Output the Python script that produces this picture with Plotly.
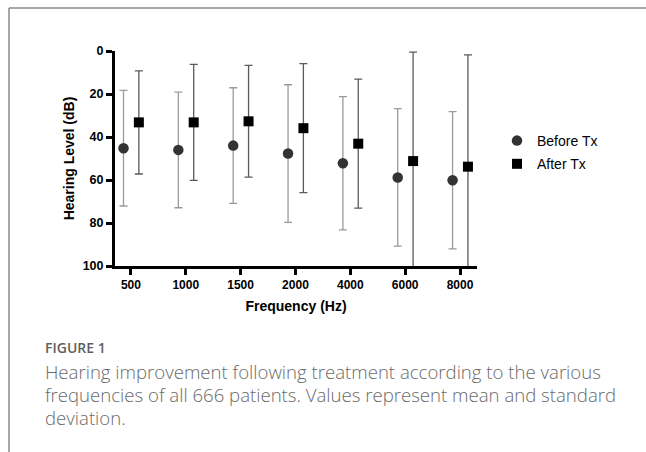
import plotly.graph_objects as go

categories = ["500", "1000", "1500", "2000", "4000", "6000", "8000"]
before_mean = [45.2, 46.0, 44.0, 47.7, 52.2, 58.8, 60.1]
before_sd = [26.9, 26.9, 26.9, 32.0, 31.0, 32.0, 31.9]
after_mean = [33.2, 33.2, 32.7, 35.9, 43.1, 51.2, 53.8]
after_sd = [24.0, 27.0, 26.0, 30.0, 30.0, 50.7, 52.0]
y_ticks = [0, 20, 40, 60, 80, 100]

idx = list(range(len(categories)))
off_b, off_a = -0.135, 0.145
xb = [i + off_b for i in idx]
xa = [i + off_a for i in idx]

FONT = "Liberation Sans, Arial, sans-serif"
W, H = 646, 452
L, R, T, B = 115, 477, 51, 266


def px(x):
    return (x - L) / (R - L)


def py(y):
    return (B - y) / (B - T)


fig = go.Figure()
fig.add_trace(go.Scatter(
    x=xb, y=before_mean, mode="markers", name="Before Tx", legendgroup="b",
    marker=dict(symbol="circle", size=10.5, color="#333333"),
    error_y=dict(type="data", array=before_sd, symmetric=True,
                 color="#9a9a9a", thickness=1.3, width=4),
))
fig.add_trace(go.Scatter(
    x=xa, y=after_mean, mode="markers", name="After Tx", legendgroup="a",
    marker=dict(symbol="square", size=10, color="#000000"),
    error_y=dict(type="data", array=after_sd, symmetric=True,
                 color="#5a5a5a", thickness=1.3, width=4),
))

fig.update_layout(
    width=W, height=H,
    margin=dict(l=L, r=W - R, t=T, b=H - B, pad=0),
    paper_bgcolor="white", plot_bgcolor="white",
    font=dict(family=FONT, color="black"),
    showlegend=True,
    legend=dict(x=px(497), y=py(125), xanchor="left", yanchor="top",
                font=dict(size=14, family=FONT, color="black"),
                bgcolor="rgba(0,0,0,0)", tracegroupgap=2,
                traceorder="grouped", itemwidth=30),
    xaxis=dict(
        range=[-0.29, 6.31], tickmode="array", tickvals=idx, ticktext=categories,
        showline=True, linecolor="black", linewidth=3,
        ticks="outside", ticklen=6, tickwidth=3, tickcolor="black",
        showgrid=False, zeroline=False,
        tickfont=dict(size=12, family=FONT, color="black", weight="bold"),
        title=dict(text="Frequency (Hz)", standoff=10,
                   font=dict(size=14, family=FONT, color="black", weight="bold")),
    ),
    yaxis=dict(
        range=[100, 0], tickmode="array", tickvals=y_ticks,
        showline=True, linecolor="black", linewidth=3,
        ticks="outside", ticklen=6, tickwidth=3, tickcolor="black",
        showgrid=False, zeroline=False,
        tickfont=dict(size=12.5, family=FONT, color="black", weight="bold"),
        title=dict(text="Hearing Level (dB)", standoff=5,
                   font=dict(size=14, family=FONT, color="black", weight="bold")),
    ),
)

# frame lines
fig.add_shape(type="line", xref="paper", yref="paper",
              x0=px(9), y0=py(8), x1=px(660), y1=py(8),
              line=dict(color="#8a8a8a", width=1.5))
fig.add_shape(type="line", xref="paper", yref="paper",
              x0=px(9), y0=py(8), x1=px(9), y1=py(470),
              line=dict(color="#8a8a8a", width=1.5))

CAP = "Open Sans, sans-serif"
fig.add_annotation(text="FIGURE 1", xref="paper", yref="paper",
                   x=px(43), y=py(347.5), xanchor="left", yanchor="middle",
                   showarrow=False,
                   font=dict(size=14, family=CAP, color="#5f5f5f", weight=600))
lines = ["Hearing improvement following treatment according to the various",
         "frequencies of all 666 patients. Values represent mean and standard",
         "deviation."]
for k, ln in enumerate(lines):
    fig.add_annotation(text=ln, xref="paper", yref="paper",
                       x=px(43), y=py(371 + 23 * k), xanchor="left", yanchor="middle",
                       showarrow=False,
                       font=dict(size=18.6, family=CAP, color="#6a6a6a", weight=300))

fig.write_html("out.html", config={"displayModeBar": False},
               post_script="document.body.style.margin='0';document.body.style.overflow='hidden';")
